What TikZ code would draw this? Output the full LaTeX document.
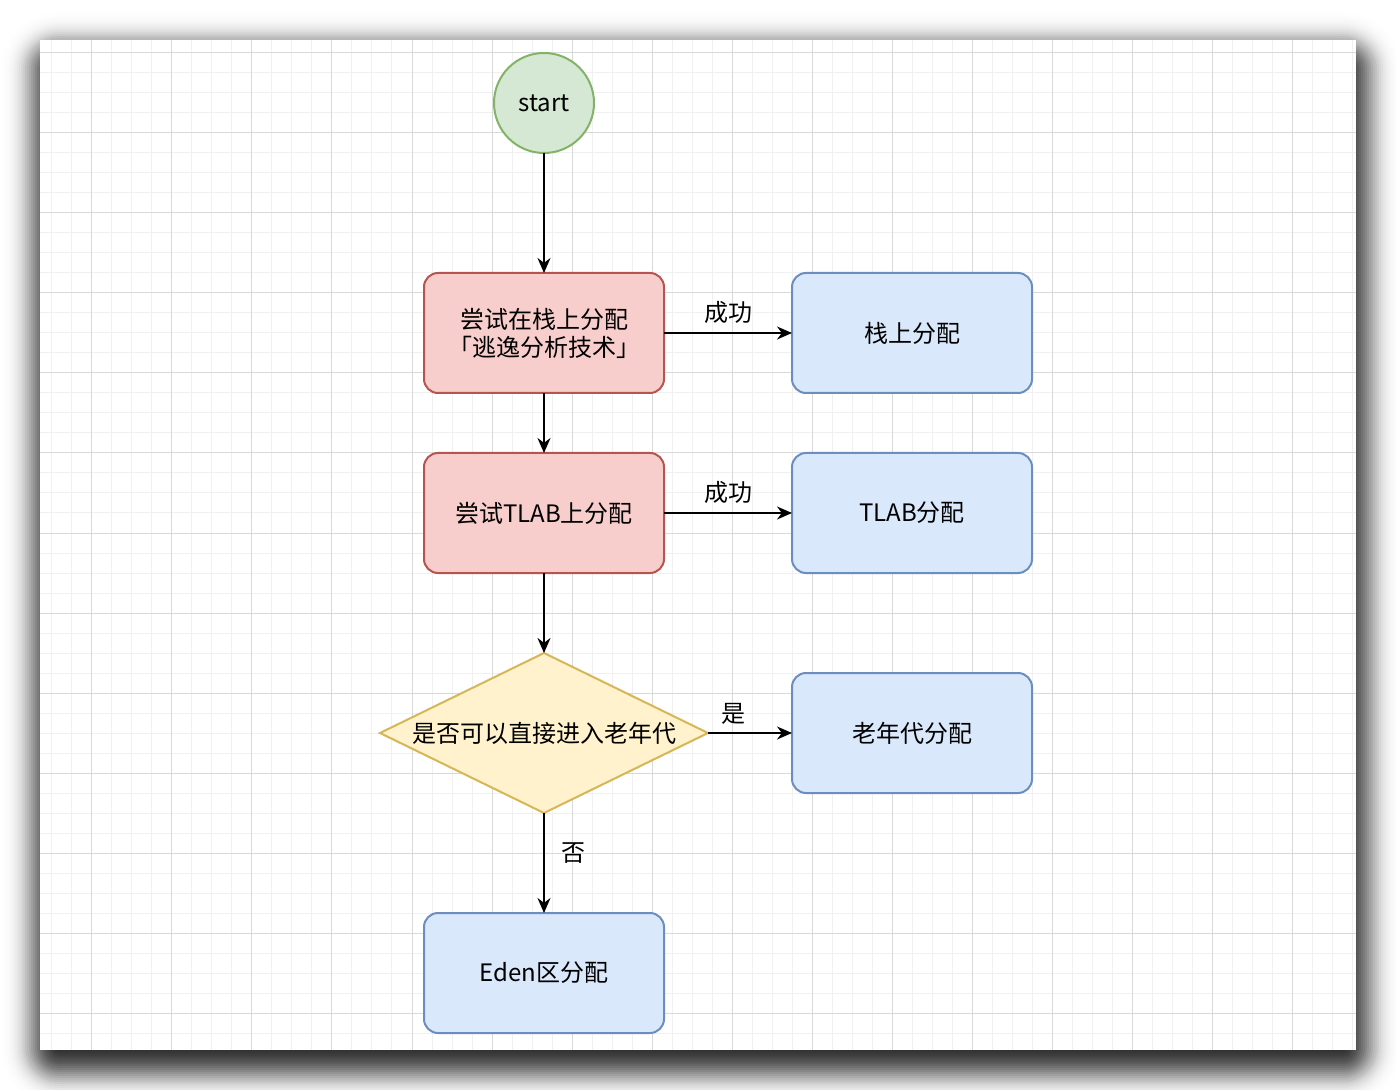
\documentclass[tikz,border=0pt]{standalone}
\usepackage{fontspec}
\setmainfont{Noto Sans CJK SC}
\usetikzlibrary{positioning, arrows.meta, shapes.geometric}
\definecolor{termfill}{HTML}{D5E8D4}
\definecolor{termline}{HTML}{82B366}
\definecolor{tryfill}{HTML}{F8CECC}
\definecolor{tryline}{HTML}{B85450}
\definecolor{allocfill}{HTML}{DAE8FC}
\definecolor{allocline}{HTML}{6C8EBF}
\definecolor{askfill}{HTML}{FFF2CC}
\definecolor{askline}{HTML}{D6B656}
\definecolor{gridminor}{HTML}{F0F0F0}
\definecolor{gridmajor}{HTML}{D9D9D9}
\tikzset{
  term/.style={draw=termline, fill=termfill, circle, line width=1pt, outer sep=0pt, minimum size=50pt, inner sep=0pt, font=\fontsize{12pt}{14pt}\selectfont},
  trybox/.style={draw=tryline, fill=tryfill, rounded corners=7pt, line width=1pt, outer sep=0pt, minimum width=120pt, minimum height=60pt, align=center, font=\fontsize{12pt}{14pt}\selectfont},
  allocbox/.style={trybox, draw=allocline, fill=allocfill},
  ask/.style={draw=askline, fill=askfill, diamond, aspect=2.05, line width=1pt, outer sep=0pt, minimum width=164pt, minimum height=80pt, inner sep=0pt, font=\fontsize{12pt}{14pt}\selectfont},
  lbl/.style={font=\fontsize{12pt}{14pt}\selectfont, inner sep=2pt},
}

\begin{document}
\begin{tikzpicture}[>={Stealth[length=7.5pt,width=6.5pt]}, line width=1pt]
  \useasboundingbox (-272pt,51.5pt) rectangle (426pt,-493.5pt);
  \fill[white] (-272pt,51.5pt) rectangle (426pt,-493.5pt);
  % shadow and page
  \foreach \e in {-24,...,24} {
    \pgfmathsetmacro\op{0.085*exp(-(\e)*(\e)/128)}
    \pgfmathsetmacro\rc{max(\e+8,0.5)}
    \fill[black, opacity=\op, rounded corners=\rc pt] ({(-250.5-(\e))*1pt},{(24.5+\e)*1pt}) rectangle ({(407.5+\e)*1pt},{(-480.5-(\e))*1pt});
  }
  \fill[white] (-252pt,31.5pt) rectangle (406pt,-473.5pt);
  \foreach \x in {-246,-236,...,404}
    \draw[gridminor, line width=0.5pt] (\x pt,31.5pt) -- (\x pt,-473.5pt);
  \foreach \y in {25,15,...,-465}
    \draw[gridminor, line width=0.5pt] (-252pt,\y pt) -- (406pt,\y pt);
  \foreach \x in {-226,-186,...,374}
    \draw[gridmajor, line width=0.5pt] (\x pt,31.5pt) -- (\x pt,-473.5pt);
  \foreach \y in {25,-15,...,-455}
    \draw[gridmajor, line width=0.5pt] (-252pt,\y pt) -- (406pt,\y pt);

  \node[term] (start) at (0,0) {start};
  \node[trybox, below=60pt of start] (stack) {尝试在栈上分配\\「逃逸分析技术」};
  \node[allocbox, right=64pt of stack] (stackok) {栈上分配};
  \node[trybox, below=30pt of stack] (tlab) {尝试TLAB上分配};
  \node[allocbox, right=64pt of tlab] (tlabok) {TLAB分配};
  \node[ask, below=40pt of tlab] (old) {是否可以直接进入老年代};
  \node[allocbox, right=42pt of old] (oldok) {老年代分配};
  \node[allocbox, below=50pt of old] (eden) {Eden区分配};

  \draw[->] (start) -- (stack);
  \draw[->] (stack) -- node[lbl, above=2pt] {成功} (stackok);
  \draw[->] (stack) -- (tlab);
  \draw[->] (tlab) -- node[lbl, above=2pt] {成功} (tlabok);
  \draw[->] (tlab) -- (old);
  \draw[->] (old) -- node[lbl, above=2pt, pos=0.3] {是} (oldok);
  \draw[->] (old) -- node[lbl, right=6pt, pos=0.4] {否} (eden);
\end{tikzpicture}
\end{document}
